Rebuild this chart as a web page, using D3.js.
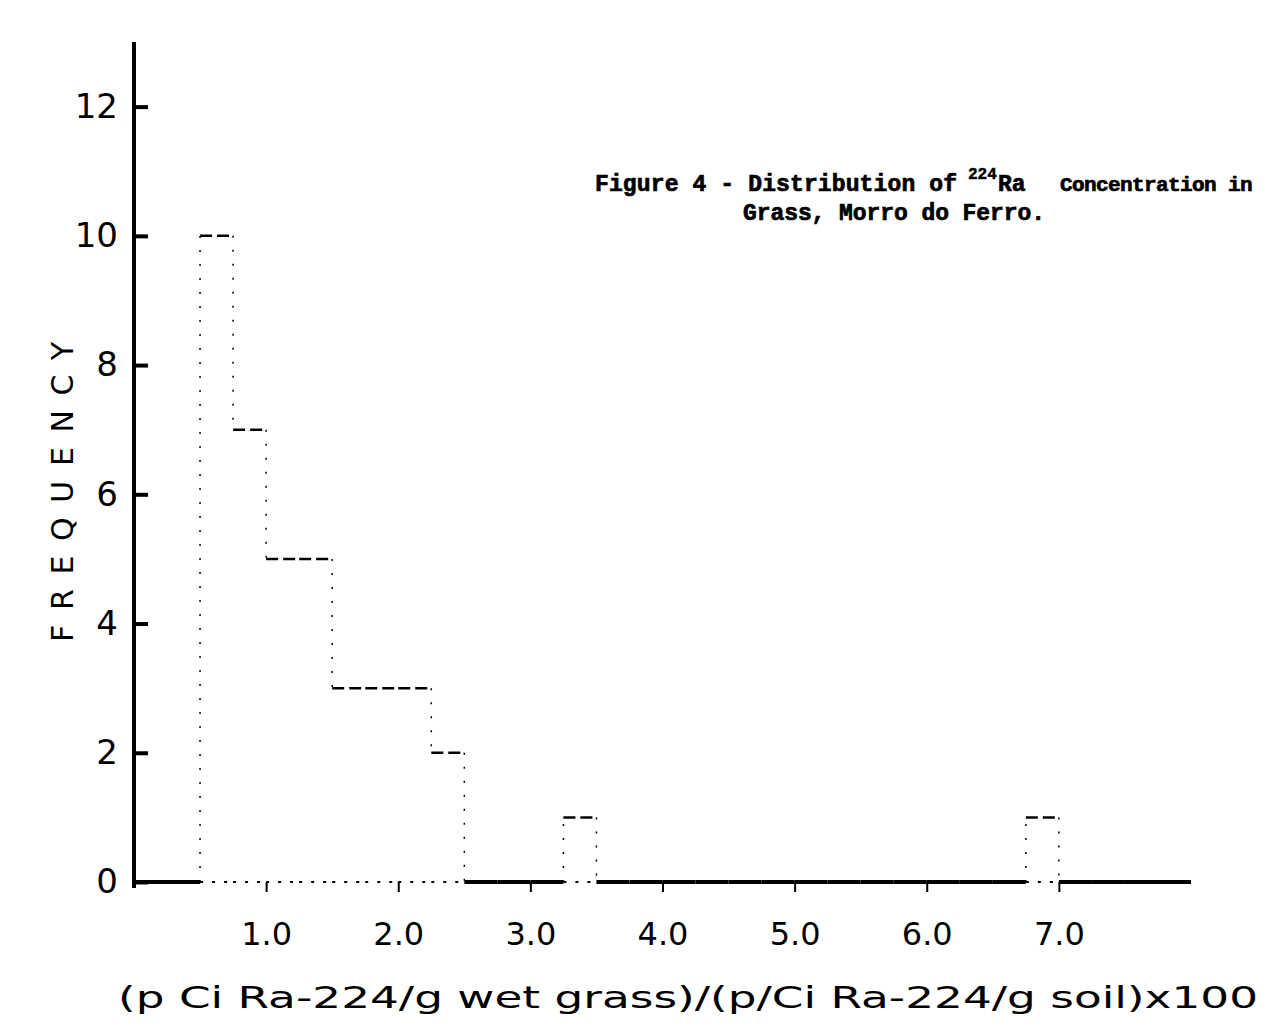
<!DOCTYPE html>
<html>
<head>
<meta charset="utf-8">
<script src="https://cdn.jsdelivr.net/npm/d3@7"></script>
<style>
  body { margin: 0; background: #fff; }
  svg { display: block; }
</style>
</head>
<body>
<div id="chart"></div>
<script>
// histogram bins (width 0.25), only the non-empty ones
const binWidth = 0.25;
const binStart = [0.5, 0.75, 1.0, 1.25, 1.5, 1.75, 2.0, 2.25, 3.25, 6.75];
const frequency = [10, 7, 5, 5, 3, 3, 3, 2, 1, 1];

const xTicks = [1, 2, 3, 4, 5, 6, 7];
const yTicks = [0, 2, 4, 6, 8, 10, 12];

const xLabel = "(p Ci Ra-224/g wet grass)/(p/Ci Ra-224/g soil)x100";
const yLabel = "FREQUENCY";

const w = 1269;
const h = 1036;

const xScale = d3.scaleLinear().domain([0, 8]).range([134, 1191]);
const yScale = d3.scaleLinear().domain([0, 13]).range([882, 42]);

// full list of counts, one per bin from 0 to 8
const nBins = Math.round(8 / binWidth);
const counts = d3.range(nBins).map((i) => {
  const k = binStart.findIndex((s) => Math.abs(s - i * binWidth) < 1e-9);
  return k < 0 ? 0 : frequency[k];
});

const svg = d3.select("#chart").append("svg").attr("width", w).attr("height", h);

// Y axis (ticks point inward, labels outside)
const yAxis = d3.axisLeft(yScale).tickValues(yTicks).tickSize(-14).tickSizeOuter(0).tickPadding(16);
const gy = svg.append("g").attr("transform", `translate(${xScale(0)},0)`).call(yAxis);
gy.select(".domain").attr("stroke-width", 4).attr("d", `M0,${yScale(13)}V${yScale(0) + 6}`);
gy.selectAll(".tick line").attr("stroke-width", 4);
gy.selectAll(".tick text")
  .attr("font-family", "DejaVu Sans, sans-serif")
  .attr("font-size", 34)
  .attr("fill", "#000");

// X axis: ticks and labels only, baseline drawn below from the data
const xAxis = d3.axisBottom(xScale).tickValues(xTicks).tickFormat(d3.format(".1f")).tickSize(10).tickPadding(30);
const gx = svg.append("g").attr("transform", `translate(0,${yScale(0)})`).call(xAxis);
gx.select(".domain").remove();
gx.selectAll(".tick line").attr("stroke-width", 2);
gx.selectAll(".tick text")
  .attr("font-family", "DejaVu Sans, sans-serif")
  .attr("font-size", 32)
  .attr("fill", "#000");

// baseline: solid where the bin is empty, dotted under bars
svg.append("g")
  .selectAll("line")
  .data(counts.map((c, i) => ({ c, i })))
  .enter()
  .append("line")
  .attr("x1", (d) => xScale(d.i * binWidth))
  .attr("x2", (d) => xScale((d.i + 1) * binWidth))
  .attr("y1", yScale(0))
  .attr("y2", yScale(0))
  .attr("stroke", "#000")
  .attr("stroke-width", (d) => (d.c === 0 ? 4 : 2))
  .attr("stroke-dasharray", (d) => (d.c === 0 ? null : "3 9"));

// bar tops
svg.append("g")
  .selectAll("line")
  .data(counts.map((c, i) => ({ c, i })).filter((d) => d.c > 0))
  .enter()
  .append("line")
  .attr("x1", (d) => xScale(d.i * binWidth))
  .attr("x2", (d) => xScale((d.i + 1) * binWidth))
  .attr("y1", (d) => yScale(d.c))
  .attr("y2", (d) => yScale(d.c))
  .attr("stroke", "#000")
  .attr("stroke-width", 2.5)
  .attr("stroke-dasharray", "12 5");

// bar sides, where the count changes
const edges = d3.range(nBins + 1)
  .map((i) => ({ i, a: counts[i - 1] || 0, b: counts[i] || 0 }))
  .filter((d) => d.a !== d.b);
svg.append("g")
  .selectAll("line")
  .data(edges)
  .enter()
  .append("line")
  .attr("x1", (d) => xScale(d.i * binWidth))
  .attr("x2", (d) => xScale(d.i * binWidth))
  .attr("y1", (d) => yScale(d.a))
  .attr("y2", (d) => yScale(d.b))
  .attr("stroke", "#000")
  .attr("stroke-width", 1.5)
  .attr("stroke-dasharray", "2 12");

// axis titles
svg.append("text")
  .attr("x", 118)
  .attr("y", 1008)
  .attr("textLength", 1140)
  .attr("lengthAdjust", "spacingAndGlyphs")
  .attr("font-family", "DejaVu Sans, sans-serif")
  .attr("font-size", 31)
  .text(xLabel);

svg.append("text")
  .attr("transform", "translate(73,492) rotate(-90)")
  .attr("text-anchor", "middle")
  .attr("textLength", 300)
  .attr("lengthAdjust", "spacing")
  .attr("font-family", "DejaVu Sans, sans-serif")
  .attr("font-size", 30)
  .text(yLabel);

// figure caption, heavy typewriter look
const cap = svg.append("g")
  .attr("font-family", "Liberation Mono, monospace")
  .attr("font-weight", "bold")
  .attr("font-size", 23)
  .attr("fill", "#000")
  .attr("stroke", "#000")
  .attr("stroke-width", 0.7);
cap.append("text").attr("x", 595).attr("y", 191).attr("textLength", 362).attr("lengthAdjust", "spacing").text("Figure 4 - Distribution of");
cap.append("text").attr("x", 968).attr("y", 179).attr("font-size", 16).attr("stroke-width", 0.5).text("224");
cap.append("text").attr("x", 998).attr("y", 191).text("Ra");
cap.append("text").attr("x", 1060).attr("y", 191).attr("font-size", 21).attr("letter-spacing", -0.6).text("Concentration in");
cap.append("text").attr("x", 743).attr("y", 220).attr("textLength", 302).attr("lengthAdjust", "spacing").text("Grass, Morro do Ferro.");
</script>
</body>
</html>
